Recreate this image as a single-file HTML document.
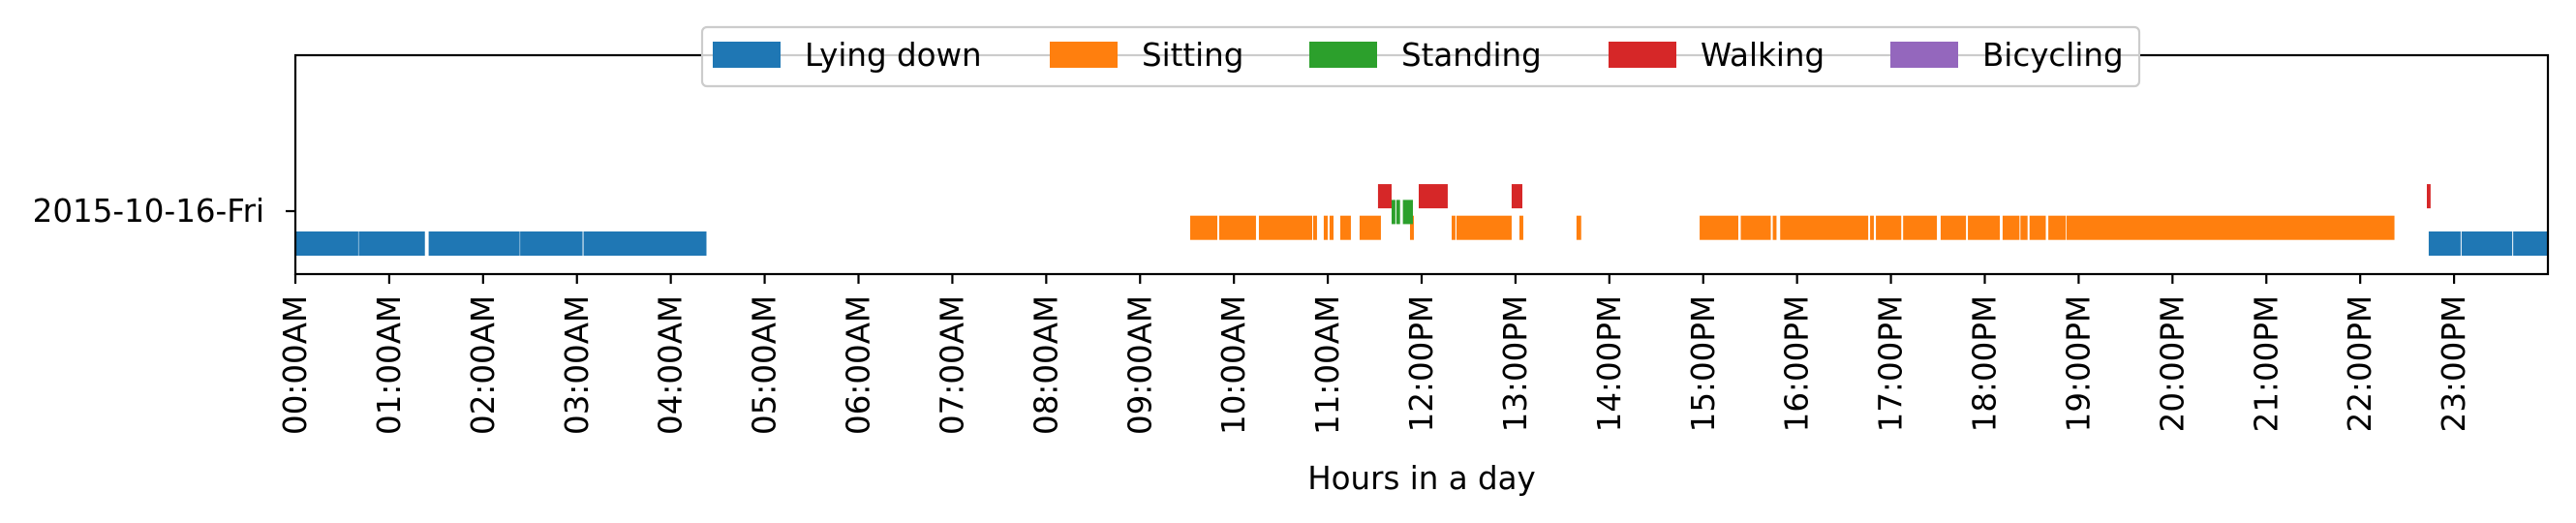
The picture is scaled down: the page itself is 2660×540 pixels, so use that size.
<!DOCTYPE html>
<html><head><meta charset="utf-8"><style>
html,body{margin:0;padding:0;background:#fff;}
svg{display:block;font-family:"DejaVu Sans","Liberation Sans",sans-serif;}
</style></head><body>
<svg id="chart" width="2660" height="540" viewBox="0 0 2660 540" xmlns="http://www.w3.org/2000/svg">
<g id="bars"></g>
<g id="axes"></g>
<g id="legend"></g>
</svg>
<script>
const categories = ["Lying down","Sitting","Standing","Walking","Bicycling"];
const colors = ["#1f77b4","#ff7f0e","#2ca02c","#d62728","#9467bd"];
const dayLabel = "2015-10-16-Fri";
const lyingIntervals = [[0,0.67],[0.675,1.38],[1.42,2.39],[2.395,3.06],[3.07,4.38],[22.73,23.07],[23.08,23.62],[23.63,24]];
const sittingIntervals = [[9.534,9.823],[9.843,10.235],[10.266,10.834],[10.844,10.885],[10.957,10.999],[11.019,11.061],[11.133,11.246],[11.339,11.566],[11.876,11.917],[12.32,12.36],[12.371,12.959],[13.042,13.083],[13.65,13.70],[14.962,15.374],[15.40,15.72],[15.741,15.781],[15.82,16.758],[16.778,16.818],[16.84,17.11],[17.13,17.49],[17.53,17.80],[17.82,18.16],[18.19,18.37],[18.38,18.456],[18.477,18.65],[18.677,18.862],[18.87,22.365]];
const standingIntervals = [[11.68,11.72],[11.73,11.77],[11.80,11.907]];
const walkingIntervals = [[11.535,11.68],[11.969,12.278],[12.959,13.073],[22.71,22.75]];
const bicyclingIntervals = [];
const hourTicks = [0,1,2,3,4,5,6,7,8,9,10,11,12,13,14,15,16,17,18,19,20,21,22,23];
const hourLabels = ["00:00AM","01:00AM","02:00AM","03:00AM","04:00AM","05:00AM","06:00AM","07:00AM","08:00AM","09:00AM","10:00AM","11:00AM","12:00PM","13:00PM","14:00PM","15:00PM","16:00PM","17:00PM","18:00PM","19:00PM","20:00PM","21:00PM","22:00PM","23:00PM"];

const NS="http://www.w3.org/2000/svg";
const L=305,R=2631,T=57,B=283;
const FS=32.5;
const x = h => L + (R-L)*h/24;
const levelTop = k => 239 - k*16.3;
const barH = 25;
function mk(tag, attrs, parent){const e=document.createElementNS(NS,tag);for(const k in attrs)e.setAttribute(k,attrs[k]);parent.appendChild(e);return e;}

const bars=document.getElementById('bars');
const all=[lyingIntervals,sittingIntervals,standingIntervals,walkingIntervals,bicyclingIntervals];
all.forEach((arr,k)=>{arr.forEach(iv=>{
  const r=mk('rect',{x:x(iv[0]),y:levelTop(k),width:Math.max(1,x(iv[1])-x(iv[0])),height:barH,fill:colors[k]},bars);
  
  
});});

const ax=document.getElementById('axes');
const frame=mk('rect',{x:L,y:T,width:R-L,height:B-T,fill:'none',stroke:'#000','stroke-width':2.2},ax);


hourTicks.forEach((h,i)=>{
  const t=mk('line',{x1:x(h),x2:x(h),y1:B,y2:B+10,stroke:'#000','stroke-width':2.2},ax);
  
  
  const tx=mk('text',{x:0,y:0,'font-size':FS,'text-anchor':'end','dominant-baseline':'central',transform:`translate(${x(h)},${B+22}) rotate(-90)`},ax);
  tx.textContent=hourLabels[i];
  
  
});
const yt=mk('line',{x1:L-10,x2:L,y1:218,y2:218,stroke:'#000','stroke-width':2.2},ax);


const yl=mk('text',{x:L-32,y:218,'font-size':FS,'text-anchor':'end','dominant-baseline':'central'},ax);
yl.textContent=dayLabel;


const xt=mk('text',{x:(L+R)/2,y:505,'font-size':FS,'text-anchor':'middle'},ax);
xt.textContent="Hours in a day";



const lg=document.getElementById('legend');
const box=mk('rect',{x:725,y:28,width:1484,height:61,rx:5,fill:'rgba(255,255,255,0.8)',stroke:'#cccccc','stroke-width':2.2},lg);


const hx=[736,1084,1352,1661,1952];
categories.forEach((c,k)=>{
  const s=mk('rect',{x:hx[k],y:43,width:70,height:27,fill:colors[k]},lg);
  
  
  const t=mk('text',{x:hx[k]+95,y:57,'font-size':FS,'dominant-baseline':'central'},lg);
  t.textContent=c;
  
  
});
</script>
</body></html>
